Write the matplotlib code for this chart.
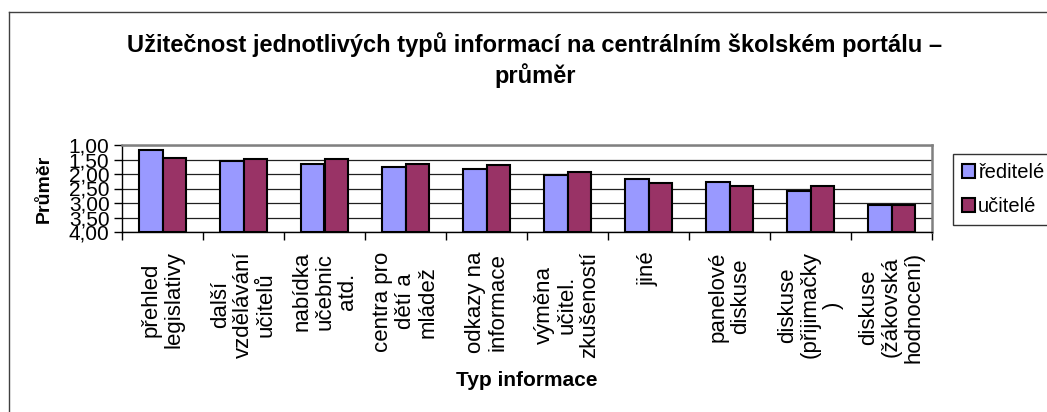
import numpy as np
import matplotlib
matplotlib.use("Agg")
import matplotlib.pyplot as plt
from matplotlib.lines import Line2D
from matplotlib.ticker import FixedLocator, FuncFormatter

categories = [
    "přehled\nlegislativy",
    "další\nvzdělávání\nučitelů",
    "nabídka\nučebnic\natd.",
    "centra pro\ndětí a\nmládež",
    "odkazy na\ninformace",
    "výměna\nučitel.\nzkušeností",
    "jiné",
    "panelové\ndiskuse",
    "diskuse\n(přijimačky\n)",
    "diskuse\n(žákovská\nhodnocení)",
]
reditele = [1.17, 1.55, 1.67, 1.75, 1.84, 2.02, 2.16, 2.28, 2.58, 3.08]
ucitele = [1.44, 1.48, 1.49, 1.66, 1.70, 1.92, 2.32, 2.41, 2.42, 3.07]
series_names = ["ředitelé", "učitelé"]
y_ticks = [1.0, 1.5, 2.0, 2.5, 3.0, 3.5, 4.0]

plt.rcParams['font.family'] = ['Liberation Sans', 'DejaVu Sans']

W, H = 1047, 412
fig = plt.figure(figsize=(W / 100, H / 100), dpi=100)
fig.patch.set_facecolor("white")

# figure border (top and left visible)
fig.add_artist(Line2D([9 / W, 1], [1 - 12 / H, 1 - 12 / H], transform=fig.transFigure,
                      color="#404040", lw=1.0))
fig.add_artist(Line2D([9 / W, 9 / W], [0, 1 - 12 / H], transform=fig.transFigure,
                      color="#404040", lw=1.0))

left, right, top, bottom = 122, 932, 145, 232
ax = fig.add_axes([left / W, 1 - bottom / H, (right - left) / W, (bottom - top) / H])

x = np.arange(len(categories))
bw = 0.285
base = 4.0
r = np.array(reditele)
u = np.array(ucitele)
ax.bar(x - bw / 2, r - base, bottom=base, width=bw, color="#9999FF",
       edgecolor="black", linewidth=1.5, label=series_names[0], zorder=3)
ax.bar(x + bw / 2, u - base, bottom=base, width=bw, color="#993366",
       edgecolor="black", linewidth=1.5, label=series_names[1], zorder=3)

ax.set_xlim(-0.5, len(categories) - 0.5)
ax.set_ylim(4.0, 1.0)
ax.yaxis.set_major_locator(FixedLocator(y_ticks))
ax.yaxis.set_major_formatter(FuncFormatter(lambda v, p: f"{v:.2f}".replace(".", ",")))
ax.grid(axis="y", color="#202020", lw=0.9, zorder=0)
ax.set_axisbelow(True)

ax.xaxis.set_major_locator(FixedLocator(np.arange(-0.5, len(categories), 1.0)))
ax.xaxis.set_minor_locator(FixedLocator(x))
ax.set_xticklabels([])
ax.set_xticklabels(categories, minor=True, rotation=90, fontsize=16,
                   ha="center", va="top", multialignment="center", linespacing=1.1)
ax.tick_params(axis="x", which="major", direction="out", length=6, width=1, color="black")
ax.tick_params(axis="x", which="minor", length=0, pad=14)
ax.tick_params(axis="y", direction="out", length=6, width=1, labelsize=15, pad=3,
               color="black")

for s in ["left", "bottom"]:
    ax.spines[s].set_color("black")
    ax.spines[s].set_linewidth(1.0)
for s in ["top", "right"]:
    ax.spines[s].set_color("#808080")
    ax.spines[s].set_linewidth(1.8)

ax.set_ylabel("Průměr", fontsize=14, fontweight="bold")
ax.yaxis.set_label_coords((53 - left) / (right - left), 0.5)
fig.text(527 / W, 1 - 381 / H, "Typ informace", fontsize=15, fontweight="bold",
         ha="center", va="center")

fig.text(535 / W, 1 - 60 / H,
         "Užitečnost jednotlivých typů informací na centrálním školském portálu –\nprůměr",
         fontsize=17, fontweight="bold", ha="center", va="center", linespacing=1.3)

leg = ax.legend(loc="upper left", bbox_to_anchor=(953 / W, 1 - 154 / H),
                bbox_transform=fig.transFigure, borderaxespad=0, fontsize=14.5,
                frameon=True, fancybox=False, edgecolor="black",
                handlelength=0.65, handleheight=0.65, handletextpad=0.15,
                labelspacing=0.75, borderpad=0.45)
leg.get_frame().set_linewidth(1.0)

fig.savefig("out.png", dpi=100, facecolor="white")
